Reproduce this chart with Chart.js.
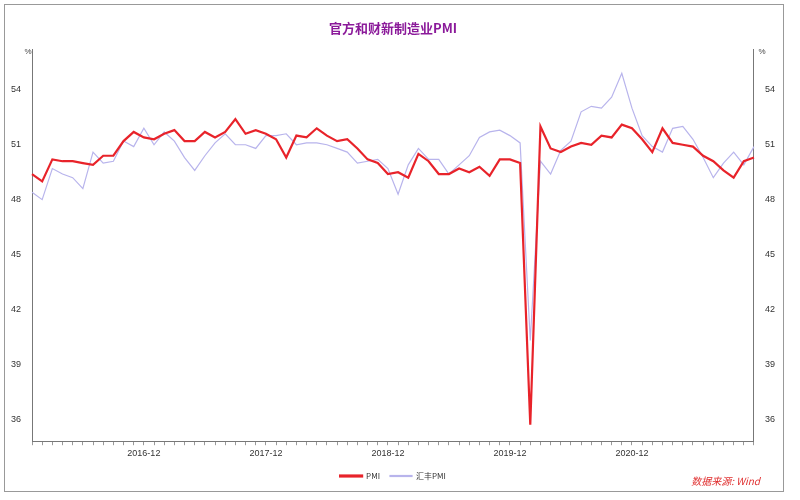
<!DOCTYPE html>
<html><head><meta charset="utf-8">
<script src="https://cdn.jsdelivr.net/npm/chart.js@4"></script>
<style>
html,body{margin:0;padding:0;background:#fff;}
#wrap{position:absolute;left:4px;top:4px;width:780px;height:488px;border:1px solid #999;box-sizing:border-box;}
canvas{position:absolute;left:0;top:0;}
.src{position:absolute;right:40px;top:473px;font:italic 10px "Noto Sans CJK SC";color:#e03030;}
</style></head><body>
<div id="wrap"></div>
<canvas id="c" width="800" height="500"></canvas>
<div class="src">数据来源: Wind</div>
<script>
const years=[2016,2017,2018,2019,2020,2021];
const categories=[];
years.forEach(y=>{for(let m=1;m<=12;m++)categories.push(y+'-'+String(m).padStart(2,'0'));});
const pmi=[49.4,49.0,50.2,50.1,50.1,50.0,49.9,50.4,50.4,51.2,51.7,51.4,
51.3,51.6,51.8,51.2,51.2,51.7,51.4,51.7,52.4,51.6,51.8,51.6,
51.3,50.3,51.5,51.4,51.9,51.5,51.2,51.3,50.8,50.2,50.0,49.4,
49.5,49.2,50.5,50.1,49.4,49.4,49.7,49.5,49.8,49.3,50.2,50.2,
50.0,35.7,52.0,50.8,50.6,50.9,51.1,51.0,51.5,51.4,52.1,51.9,
51.3,50.6,51.9,51.1,51.0,50.9,50.4,50.1,49.6,49.2,50.1,50.3];
const caixin=[48.4,48.0,49.7,49.4,49.2,48.6,50.6,50.0,50.1,51.2,50.9,51.9,
51.0,51.7,51.2,50.3,49.6,50.4,51.1,51.6,51.0,51.0,50.8,51.5,
51.5,51.6,51.0,51.1,51.1,51.0,50.8,50.6,50.0,50.1,50.2,49.7,
48.3,49.9,50.8,50.2,50.2,49.4,49.9,50.4,51.4,51.7,51.8,51.5,
51.1,40.3,50.1,49.4,50.7,51.2,52.8,53.1,53.0,53.6,54.9,53.0,
51.5,50.9,50.6,51.9,52.0,51.3,50.3,49.2,50.0,50.6,49.9,50.9];
const yTicks=[36,39,42,45,48,51,54];
const seriesNames=['PMI','汇丰PMI'];
const tickFont={family:'Liberation Sans',size:9};
const pctPlugin={id:'pct',afterDraw(ch){const c=ch.ctx,a=ch.chartArea;c.save();c.font='8px Liberation Sans';c.fillStyle='#444';c.textAlign='center';c.fillText('%',a.left-4,a.top+2);c.fillText('%',a.right+8,a.top+2);c.restore();}};
new Chart(document.getElementById('c'),{type:'line',
data:{labels:categories,datasets:[
{label:seriesNames[0],data:pmi,borderColor:'#e8232a',borderWidth:2.2,pointRadius:0,tension:0,yAxisID:'y',order:1},
{label:seriesNames[1],data:caixin,borderColor:'#b8b4ec',borderWidth:1.2,pointRadius:0,tension:0,yAxisID:'y',order:2}]},
options:{responsive:false,animation:false,
layout:{padding:{left:8,right:22,top:10,bottom:10}},
plugins:{title:{display:true,text:'官方和财新制造业PMI',color:'#8b1a9a',font:{family:'Noto Sans CJK SC',size:13,weight:'bold'},padding:{top:10,bottom:14}},
legend:{position:'bottom',labels:{boxWidth:22,boxHeight:1,font:{family:'Noto Sans CJK SC',size:8},color:'#333'}},tooltip:{enabled:false}},
scales:{
x:{offset:false,grid:{display:true,drawOnChartArea:false,tickLength:4,color:'#999'},border:{color:'#777'},
ticks:{autoSkip:false,maxRotation:0,font:tickFont,color:'#333',callback:(v,i)=>(categories[i].endsWith('-12')&&i<categories.length-1)?categories[i]:''}},
y:{min:34.8,max:56.2,position:'left',afterBuildTicks:s=>{s.ticks=yTicks.map(v=>({value:v}));},grid:{display:false},border:{color:'#777'},ticks:{font:tickFont,color:'#333'}},
y2:{min:34.8,max:56.2,position:'right',afterBuildTicks:s=>{s.ticks=yTicks.map(v=>({value:v}));},grid:{display:false},border:{color:'#777'},ticks:{font:tickFont,color:'#333'}}
}},plugins:[pctPlugin]});
</script></body></html>
